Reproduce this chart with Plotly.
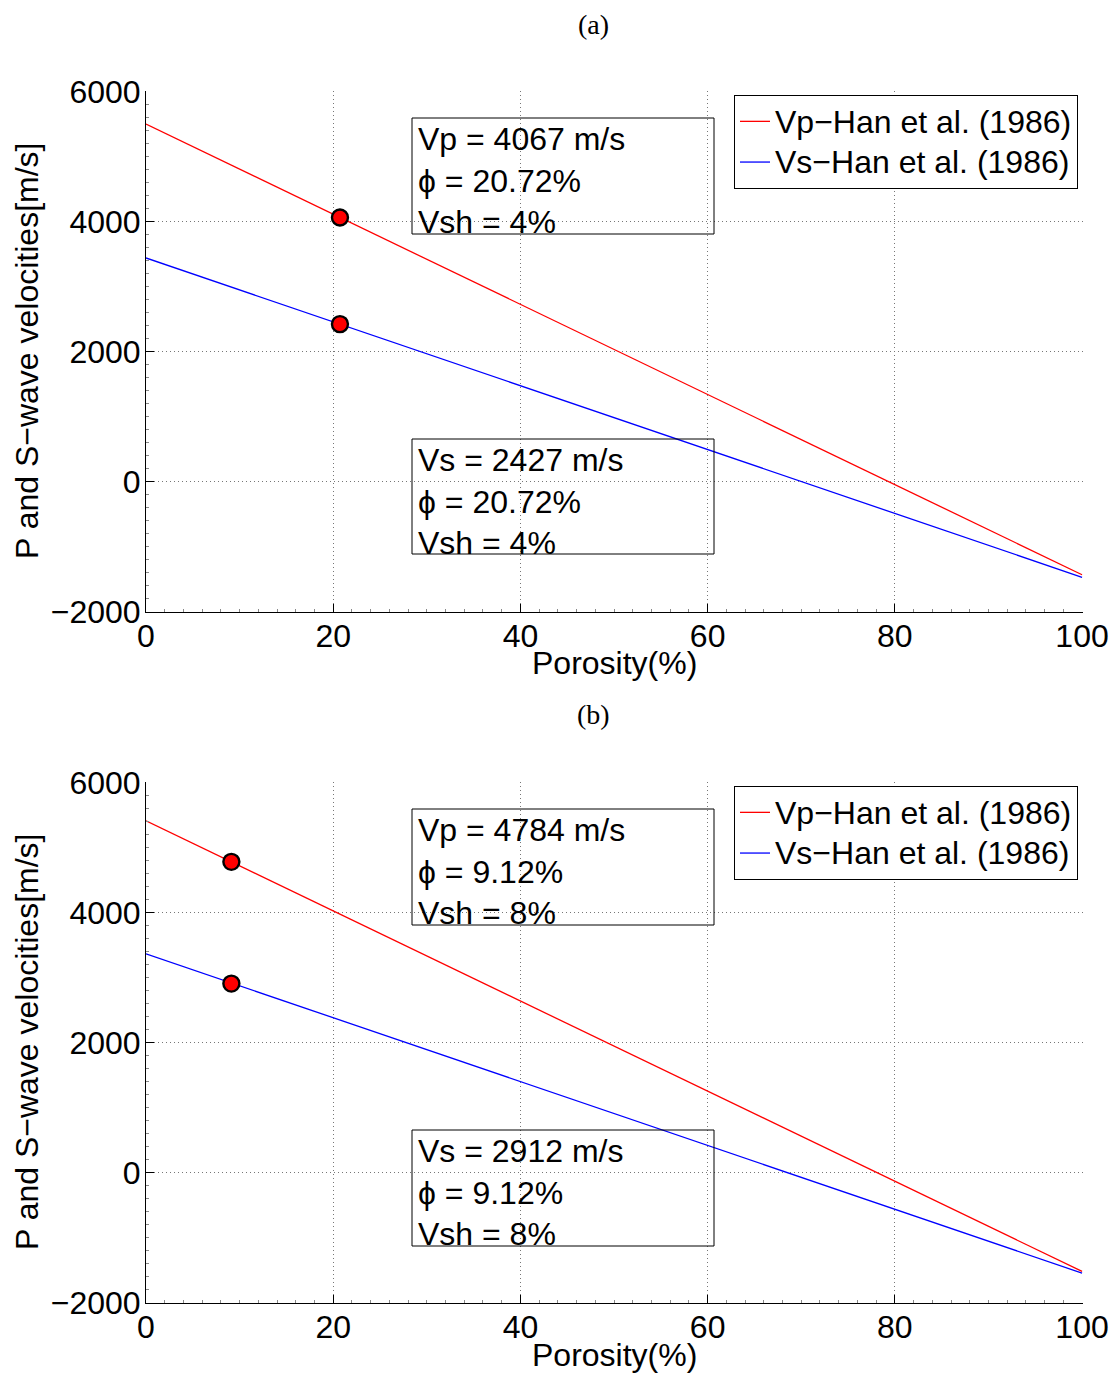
import plotly.graph_objects as go

# ---- data ----
porosity_ends = [0, 100]
vp_line_a = [5503, -1427]
vs_line_a = [3444, -1466]
vp_line_b = [5416, -1514]
vs_line_b = [3369, -1541]

phi_a = [20.72]
vp_pt_a = [4067]
vs_pt_a = [2427]
phi_b = [9.12]
vp_pt_b = [4784]
vs_pt_b = [2912]

x_ticks = [0, 20, 40, 60, 80, 100]
y_ticks = [-2000, 0, 2000, 4000, 6000]

box_a_top = "Vp = 4067 m/s<br>ϕ = 20.72%<br>Vsh = 4%"
box_a_bot = "Vs = 2427 m/s<br>ϕ = 20.72%<br>Vsh = 4%"
box_b_top = "Vp = 4784 m/s<br>ϕ = 9.12%<br>Vsh = 8%"
box_b_bot = "Vs = 2912 m/s<br>ϕ = 9.12%<br>Vsh = 8%"

# page body has an 8px margin; layout below is in figure pixels (= page px - 8)
W, H = 1109, 1368
FONT = "Liberation Sans, Arial, Helvetica, sans-serif"
FS = 32

def px(x):
    return x / W

def py(y):
    return 1 - y / H

fig = go.Figure()

def big(s):
    return '<span style="font-size:%dpx">%s</span>' % (FS, s)

def add_panel(xa, ya, vp_line, vs_line, phi, vp_pt, vs_pt, legend):
    fig.add_trace(go.Scatter(x=porosity_ends, y=vp_line, mode="lines",
                             line=dict(color="#ff0000", width=1.3),
                             name=big("Vp\u2212Han et al. (1986)"),
                             xaxis=xa, yaxis=ya, legend=legend))
    fig.add_trace(go.Scatter(x=porosity_ends, y=vs_line, mode="lines",
                             line=dict(color="#0000ff", width=1.3),
                             name=big("Vs\u2212Han et al. (1986)"),
                             xaxis=xa, yaxis=ya, legend=legend))
    fig.add_trace(go.Scatter(x=phi + phi, y=vp_pt + vs_pt, mode="markers",
                             marker=dict(color="#ff0000", size=16,
                                         line=dict(color="black", width=2.4)),
                             showlegend=False, xaxis=xa, yaxis=ya))

add_panel("x", "y", vp_line_a, vs_line_a, phi_a, vp_pt_a, vs_pt_a, "legend")
add_panel("x2", "y2", vp_line_b, vs_line_b, phi_b, vp_pt_b, vs_pt_b, "legend2")

X0, X1 = 138, 1075
xdom = [px(X0), px(X1)]
ydom_a = [py(604), py(83)]
ydom_b = [py(1295), py(774)]

GRID = dict(showgrid=True, gridcolor="#777777", griddash="1px,3px", gridwidth=1)

def xaxis_cfg(anchor):
    return dict(domain=xdom, anchor=anchor, range=[0, 100.1], tickvals=x_ticks,
                ticks="inside", ticklen=8, tickcolor="black", tickwidth=1,
                showline=True, linecolor="black", linewidth=1, mirror=False,
                zeroline=False, automargin=False, ticklabelstandoff=-4, **GRID,
                tickfont=dict(family=FONT, size=FS, color="black"),
                minor=dict(ticks="inside", ticklen=3, tickcolor="#888", dtick=2,
                           showgrid=False))

def yaxis_cfg(anchor, dom):
    return dict(domain=dom, anchor=anchor, range=[-2000, 6012], tickvals=y_ticks,
                ticks="inside", ticklen=8, tickcolor="black", tickwidth=1,
                showline=True, linecolor="black", linewidth=1, mirror=False,
                zeroline=False, automargin=False, ticklabelstandoff=-2, **GRID,
                tickfont=dict(family=FONT, size=FS, color="black"),
                minor=dict(ticks="inside", ticklen=3, tickcolor="#888", dtick=200,
                           showgrid=False))

legend_cfg = dict(xanchor="right", yanchor="top", x=px(1070),
                  bgcolor="rgba(255,255,255,1)", bordercolor="black", borderwidth=1,
                  font=dict(family=FONT, size=29, color="black"),
                  itemwidth=30, tracegroupgap=0)

fig.update_layout(
    width=W, height=H,
    margin=dict(l=0, r=0, t=0, b=0),
    plot_bgcolor="white", paper_bgcolor="white",
    xaxis=xaxis_cfg("y"), yaxis=yaxis_cfg("x", ydom_a),
    xaxis2=xaxis_cfg("y2"), yaxis2=yaxis_cfg("x2", ydom_b),
    legend=dict(legend_cfg, y=py(87)),
    legend2=dict(legend_cfg, y=py(778)),
    showlegend=True,
)

def box(text, ytop, ybot):
    fig.add_shape(type="rect", xref="paper", yref="paper",
                  x0=px(404), x1=px(706), y0=py(ybot), y1=py(ytop),
                  line=dict(color="black", width=1), fillcolor="rgba(0,0,0,0)",
                  layer="above")
    fig.add_annotation(text=text, xref="paper", yref="paper",
                       x=px(409), y=py(ytop + 2), xanchor="left", yanchor="top",
                       showarrow=False, align="left", borderpad=0,
                       font=dict(family=FONT, size=FS, color="black"))

box(box_a_top, 110, 226)
box(box_a_bot, 431, 546)
box(box_b_top, 801, 917)
box(box_b_bot, 1122, 1238)

# axis titles
for yc_title, yc_x in [(343, 655), (1034, 1347)]:
    fig.add_annotation(text="P and S\u2212wave velocities[m/s]", xref="paper", yref="paper",
                       x=px(19), y=py(yc_title), xanchor="center", yanchor="middle",
                       textangle=-90, showarrow=False,
                       font=dict(family=FONT, size=FS, color="black"))
    fig.add_annotation(text="Porosity(%)", xref="paper", yref="paper",
                       x=px((X0 + X1) / 2), y=py(yc_x), xanchor="center", yanchor="middle",
                       showarrow=False,
                       font=dict(family=FONT, size=FS, color="black"))

for label, yc in [("(a)", 16), ("(b)", 706)]:
    fig.add_annotation(text=label, xref="paper", yref="paper",
                       x=px(585), y=py(yc), xanchor="center", yanchor="middle",
                       showarrow=False,
                       font=dict(family="Liberation Serif, serif", size=28, color="black"))

fig.write_html("out.html")
